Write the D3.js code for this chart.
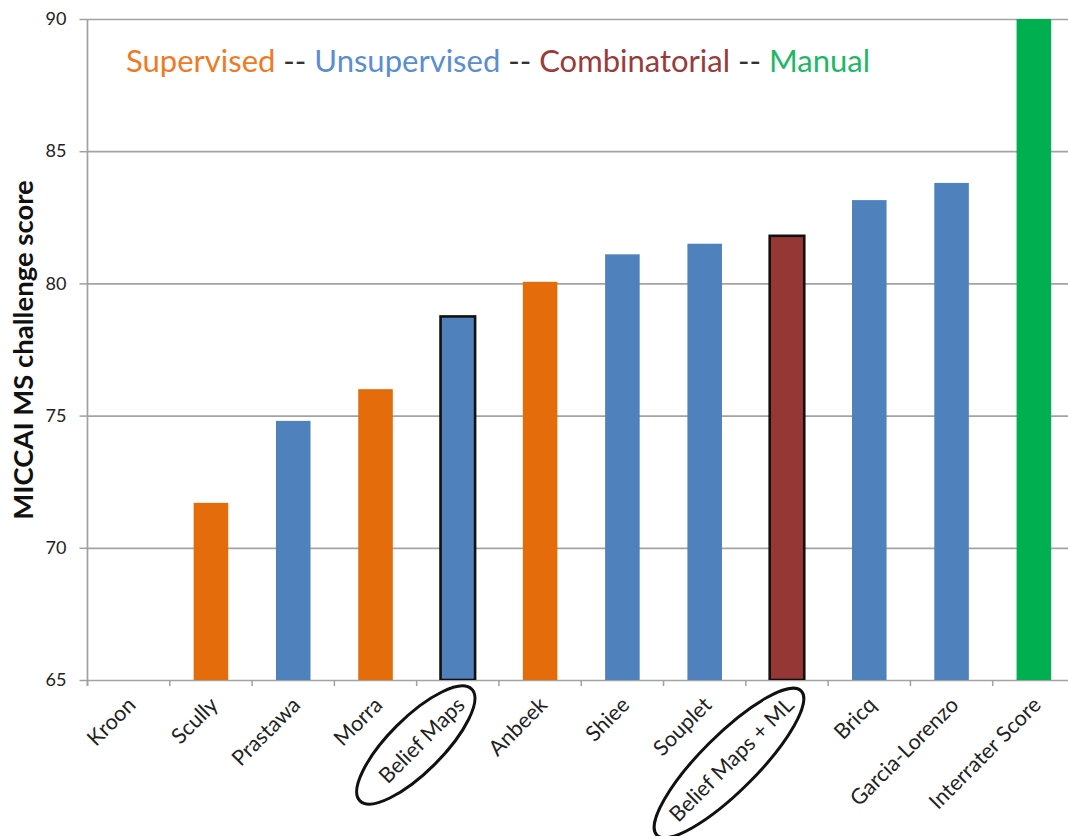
<!DOCTYPE html>
<html>
<head>
<meta charset="utf-8">
<script src="https://cdn.jsdelivr.net/npm/d3@7"></script>
<style>
  html, body { margin: 0; padding: 0; background: #fff; }
  svg { display: block; font-family: Lato, "Open Sans", sans-serif; }
</style>
</head>
<body>
<div id="chart"></div>
<script>
// Data
const methods = ['Kroon', 'Scully', 'Prastawa', 'Morra', 'Belief Maps', 'Anbeek',
  'Shiee', 'Souplet', 'Belief Maps + ML', 'Bricq', 'Garcia-Lorenzo', 'Interrater Score'];
const scores = [63, 71.7, 74.8, 76.0, 78.75, 80.06, 81.1, 81.5, 81.8, 83.15, 83.8, 90];
const groups = ['Supervised', 'Supervised', 'Unsupervised', 'Supervised', 'Unsupervised',
  'Supervised', 'Unsupervised', 'Unsupervised', 'Combinatorial', 'Unsupervised',
  'Unsupervised', 'Manual'];
const highlighted = ['Belief Maps', 'Belief Maps + ML'];
const legendItems = ['Supervised', 'Unsupervised', 'Combinatorial', 'Manual'];
const yTicks = [65, 70, 75, 80, 85, 90];

// Constants
const WIDTH = 1068;
const HEIGHT = 836;
const LEFT = 87.5;
const TOP = 19;
const BOTTOM = 680;
const RIGHT = 1075;

const groupColor = d3.scaleOrdinal(legendItems, ['#E46C0A', '#4F81BD', '#953735', '#00B050']);
const textColor = d3.scaleOrdinal(legendItems, ['#F07A23', '#5B8ED0', '#9A3B3B', '#1DB866']);

const data = methods.map((m, i) => ({ name: m, score: scores[i], group: groups[i] }));

const x = d3.scaleBand(methods, [LEFT, RIGHT]).paddingInner(0.58).paddingOuter(0.29);
const y = d3.scaleLinear([65, 90], [BOTTOM, TOP]);

const svg = d3.select('#chart')
  .append('svg')
  .attr('width', WIDTH)
  .attr('height', HEIGHT);

svg.append('defs').append('clipPath').attr('id', 'plot')
  .append('rect').attr('x', LEFT).attr('y', TOP - 2)
  .attr('width', WIDTH - LEFT).attr('height', BOTTOM - TOP + 2);

// Y axis with gridlines
const yAxis = svg.append('g')
  .attr('transform', `translate(${LEFT},0)`)
  .call(d3.axisLeft(y).tickValues(yTicks).tickSize(8).tickPadding(13));
yAxis.select('.domain').remove();
yAxis.selectAll('.tick line').attr('stroke', '#a0a0a0').attr('stroke-width', 1.5);
yAxis.selectAll('.tick').append('line')
  .attr('x1', 0).attr('x2', WIDTH - LEFT)
  .attr('stroke', '#a3a3a3').attr('stroke-width', 1.7);
yAxis.selectAll('.tick text')
  .attr('fill', '#222').style('font-size', '18px').style('font-family', 'Lato, sans-serif');

// vertical axis line
svg.append('line')
  .attr('x1', LEFT).attr('x2', LEFT).attr('y1', TOP).attr('y2', BOTTOM + 6)
  .attr('stroke', '#a0a0a0').attr('stroke-width', 1.7);

// Bars
svg.append('g').attr('clip-path', 'url(#plot)')
  .selectAll('rect')
  .data(data)
  .join('rect')
  .attr('x', (d) => x(d.name))
  .attr('width', x.bandwidth())
  .attr('y', (d) => y(Math.max(d.score, 65)))
  .attr('height', (d) => BOTTOM - y(Math.max(d.score, 65)))
  .attr('fill', (d) => groupColor(d.group))
  .attr('stroke', (d) => (highlighted.includes(d.name) ? '#111' : 'none'))
  .attr('stroke-width', 2.6);

// X axis: ticks between categories
const step = x.step();
const boundaries = methods.map((m) => x(m) - (step - x.bandwidth()) / 2);
svg.append('g')
  .selectAll('line')
  .data(boundaries)
  .join('line')
  .attr('x1', (d) => d).attr('x2', (d) => d)
  .attr('y1', BOTTOM).attr('y2', BOTTOM + 6)
  .attr('stroke', '#a0a0a0').attr('stroke-width', 1.5);

// X labels, rotated
svg.append('g')
  .selectAll('text')
  .data(methods)
  .join('text')
  .attr('transform', (d) => `translate(${x(d) + x.bandwidth() / 2 + 3},${BOTTOM + 21}) rotate(-45)`)
  .attr('text-anchor', 'end')
  .attr('dy', '0.35em')
  .attr('fill', '#222')
  .style('font-size', '21.5px')
  .text((d) => d);

// Ellipses around highlighted labels
const ellipses = [
  { name: 'Belief Maps', dx: -42, dy: 65, rx: 79, ry: 27 },
  { name: 'Belief Maps + ML', dx: -58, dy: 83, rx: 102, ry: 28 },
];
svg.append('g')
  .selectAll('ellipse')
  .data(ellipses)
  .join('ellipse')
  .attr('transform', (d) => `translate(${x(d.name) + x.bandwidth() / 2 + d.dx},${BOTTOM + d.dy}) rotate(-45)`)
  .attr('rx', (d) => d.rx)
  .attr('ry', (d) => d.ry)
  .attr('fill', 'none')
  .attr('stroke', '#111')
  .attr('stroke-width', 3);

// Y axis title
svg.append('text')
  .attr('transform', `translate(33,350) rotate(-90)`)
  .attr('text-anchor', 'middle')
  .attr('fill', '#111')
  .style('font-size', '27.5px')
  .style('font-weight', 'bold')
  .text('MICCAI MS challenge score');

// Legend line of coloured words
const legend = svg.append('text')
  .attr('x', 126)
  .attr('y', 72)
  .style('font-size', '31px');
legendItems.forEach((g, i) => {
  if (i > 0) legend.append('tspan').attr('fill', '#333').text(' -- ');
  legend.append('tspan').attr('fill', textColor(g)).text(g);
});
</script>
</body>
</html>
